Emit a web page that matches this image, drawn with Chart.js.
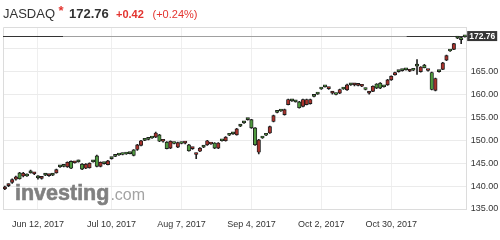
<!DOCTYPE html>
<html>
<head>
<meta charset="utf-8">
<script src="https://cdn.jsdelivr.net/npm/chart.js@4"></script>
<style>
html,body{margin:0;padding:0;background:#fff;}
#wrap{position:relative;width:500px;height:240px;overflow:hidden;}
#c{position:absolute;left:0;top:0;}
.h{position:absolute;font-family:"Liberation Sans",Arial,sans-serif;white-space:nowrap;line-height:16px;}
</style>
</head>
<body>
<div id="wrap">
<canvas id="c" width="500" height="240"></canvas>
<div class="h" style="left:3px;top:5.8px;font-size:13px;color:#333;">JASDAQ</div>
<div class="h" style="left:58.5px;top:2.5px;font-size:13px;color:#e3342f;font-weight:bold;">*</div>
<div class="h" style="left:69px;top:5.8px;font-size:13px;color:#333;font-weight:bold;">172.76</div>
<div class="h" style="left:116px;top:5.7px;font-size:11px;color:#e3342f;font-weight:bold;">+0.42</div>
<div class="h" style="left:152.5px;top:5.7px;font-size:11px;color:#e3342f;">(+0.24%)</div>
</div>
<script>
const dates = [
 'May 30, 2017','May 31, 2017',
 'Jun 1, 2017','Jun 2, 2017','Jun 5, 2017','Jun 6, 2017','Jun 7, 2017','Jun 8, 2017','Jun 9, 2017','Jun 12, 2017','Jun 13, 2017','Jun 14, 2017','Jun 15, 2017','Jun 16, 2017','Jun 19, 2017','Jun 20, 2017','Jun 21, 2017','Jun 22, 2017','Jun 23, 2017','Jun 26, 2017','Jun 27, 2017','Jun 28, 2017','Jun 29, 2017','Jun 30, 2017',
 'Jul 3, 2017','Jul 4, 2017','Jul 5, 2017','Jul 6, 2017','Jul 7, 2017','Jul 10, 2017','Jul 11, 2017','Jul 12, 2017','Jul 13, 2017','Jul 14, 2017','Jul 18, 2017','Jul 19, 2017','Jul 20, 2017','Jul 21, 2017','Jul 24, 2017','Jul 25, 2017','Jul 26, 2017','Jul 27, 2017','Jul 28, 2017','Jul 31, 2017',
 'Aug 1, 2017','Aug 2, 2017','Aug 3, 2017','Aug 4, 2017','Aug 7, 2017','Aug 8, 2017','Aug 9, 2017','Aug 10, 2017','Aug 14, 2017','Aug 15, 2017','Aug 16, 2017','Aug 17, 2017','Aug 18, 2017','Aug 21, 2017','Aug 22, 2017','Aug 23, 2017','Aug 24, 2017','Aug 25, 2017','Aug 28, 2017','Aug 29, 2017','Aug 30, 2017','Aug 31, 2017',
 'Sep 1, 2017','Sep 4, 2017','Sep 5, 2017','Sep 6, 2017','Sep 7, 2017','Sep 8, 2017','Sep 11, 2017','Sep 12, 2017','Sep 13, 2017','Sep 14, 2017','Sep 15, 2017','Sep 19, 2017','Sep 20, 2017','Sep 21, 2017','Sep 22, 2017','Sep 25, 2017','Sep 26, 2017','Sep 27, 2017','Sep 28, 2017','Sep 29, 2017',
 'Oct 2, 2017','Oct 3, 2017','Oct 4, 2017','Oct 5, 2017','Oct 6, 2017','Oct 10, 2017','Oct 11, 2017','Oct 12, 2017','Oct 13, 2017','Oct 16, 2017','Oct 17, 2017','Oct 18, 2017','Oct 19, 2017','Oct 20, 2017','Oct 23, 2017','Oct 24, 2017','Oct 25, 2017','Oct 26, 2017','Oct 27, 2017','Oct 30, 2017','Oct 31, 2017',
 'Nov 1, 2017','Nov 2, 2017','Nov 6, 2017','Nov 7, 2017','Nov 8, 2017','Nov 9, 2017','Nov 10, 2017','Nov 13, 2017','Nov 14, 2017','Nov 15, 2017','Nov 16, 2017','Nov 17, 2017','Nov 20, 2017','Nov 21, 2017','Nov 22, 2017','Nov 24, 2017','Nov 27, 2017','Nov 28, 2017','Nov 29, 2017'
];
const opens = [
 139.8,140.3,141.4,142.0,141.6,142.8,142.2,142.9,142.9,141.8,
 141.9,142.4,142.4,142.4,143.6,144.2,144.3,145.2,143.9,145.3,
 145.3,143.7,144.8,145.0,145.3,144.3,145.2,144.9,145.5,146.0,
 146.5,146.8,146.9,147.0,147.1,146.7,149.0,149.9,150.0,150.2,
 150.5,151.6,149.8,149.9,148.2,149.8,149.3,149.5,149.3,149.5,
 147.7,148.3,147.0,148.3,148.5,149.9,149.3,148.3,149.4,149.9,
 150.7,151.1,151.4,152.5,153.1,153.8,154.5,152.7,149.0,150.1,
 150.5,151.1,153.0,155.4,156.1,156.4,156.7,158.9,158.6,158.4,
 157.1,158.9,158.9,158.9,159.6,160.1,161.2,161.7,161.4,160.4,
 160.0,161.1,161.2,162.1,162.1,162.2,162.1,161.9,161.1,160.4,
 161.8,161.4,161.4,161.7,163.2,164.0,164.8,165.0,165.2,165.4,
 165.2,165.3,166.2,166.0,165.85,165.35,161.1,163.5,165.0,166.9,
 168.5,169.5,171.1,172.3,172.0,172.6
];
const highs = [
 140.0,140.5,141.6,142.2,143.0,143.0,142.7,143.5,143.0,142.3,
 142.0,142.7,142.5,142.7,143.7,144.5,144.6,145.3,145.5,145.4,
 145.7,144.9,144.9,145.1,145.6,146.8,145.3,145.2,145.6,146.3,
 146.8,147.1,147.2,147.3,147.4,148.0,149.1,150.0,150.3,150.5,
 150.8,151.8,151.3,150.2,149.7,149.9,149.6,149.6,149.6,149.6,
 149.1,148.4,147.2,148.4,148.8,150.0,149.4,149.5,149.5,150.2,
 150.8,151.4,151.7,152.6,153.4,154.1,154.8,154.6,152.8,150.2,
 150.8,151.4,153.1,155.5,156.4,156.7,156.8,159.0,158.9,158.7,
 158.5,159.0,159.0,159.0,159.9,160.4,161.5,162.0,161.5,160.5,
 160.3,161.2,161.5,162.3,162.4,162.4,162.2,162.0,161.4,160.5,
 161.9,162.4,162.6,162.0,163.3,164.1,164.9,165.3,165.5,165.7,
 165.3,165.6,167.6,166.1,166.6,165.5,164.9,163.6,165.3,167.0,
 168.6,169.8,171.2,172.6,172.5,172.9
];
const lows = [
 139.2,139.9,140.6,141.3,141.5,142.0,142.1,142.8,142.5,141.5,
 141.5,142.3,142.1,142.3,142.8,144.1,144.2,144.1,143.8,145.0,
 145.2,143.6,143.8,143.9,145.2,144.2,144.2,144.8,144.6,145.9,
 146.4,146.7,146.8,146.9,147.0,146.6,147.8,148.8,149.9,150.1,
 150.4,150.6,149.7,149.6,148.1,148.2,149.2,148.4,149.2,149.2,
 147.6,148.0,146.0,147.5,148.4,148.9,149.1,148.2,148.2,149.8,
 149.8,151.0,151.3,151.1,153.0,153.7,154.4,152.6,148.9,147.0,
 150.4,151.0,151.5,154.0,156.0,156.3,155.5,157.7,158.5,158.3,
 157.0,157.3,157.7,157.9,159.5,160.0,161.1,161.6,161.1,160.1,
 159.9,160.2,161.1,160.9,162.0,161.9,161.9,161.7,161.0,160.1,
 160.6,161.3,161.3,161.6,162.0,163.1,164.2,164.9,165.1,165.3,
 165.0,165.2,164.4,164.9,165.8,165.1,161.0,160.8,164.9,165.4,
 167.4,169.4,169.8,172.2,171.1,172.5
];
const closes = [
 139.4,140.1,140.8,141.5,142.9,142.2,142.5,143.1,142.7,142.0,
 141.7,142.5,142.3,142.5,142.9,144.3,144.4,144.2,145.4,145.1,
 145.4,144.8,143.9,144.0,145.4,146.6,144.3,145.0,144.7,146.1,
 146.6,146.9,147.0,147.1,147.2,147.9,148.0,148.9,150.1,150.4,
 150.6,150.7,151.2,149.8,149.6,148.3,149.4,148.5,149.4,149.4,
 149.0,148.2,146.9,147.6,148.6,149.0,149.2,149.4,148.3,150.0,
 149.9,151.2,151.5,151.2,153.2,153.9,154.6,154.5,152.7,147.4,
 150.6,151.2,151.6,154.1,156.2,156.5,155.6,157.8,158.7,158.5,
 158.4,157.4,157.8,158.0,159.7,160.2,161.3,161.8,161.3,160.3,
 160.1,160.3,161.3,161.0,162.2,162.1,162.0,161.8,161.3,160.3,
 160.7,162.3,162.5,161.8,162.1,163.2,164.3,165.1,165.3,165.5,
 165.1,165.4,166.35,165.0,166.4,165.25,164.8,160.9,165.1,165.5,
 167.5,169.6,169.85,172.5,172.34,172.76
];
const tickDates = ['Jun 12, 2017','Jul 10, 2017','Aug 7, 2017','Sep 4, 2017','Oct 2, 2017','Oct 30, 2017'];
const yMin = 135, yMax = 174.74, yStep = 5;
const hiddenYLabel = 170;
const lastPrice = 172.76;

const UP = '#4f9a3f', DOWN = '#a8322c', EDGE = '#1c1c1c';
const FONT = '"Liberation Sans", Arial, sans-serif';

const bodies = opens.map((o, i) => [Math.min(o, closes[i]), Math.max(o, closes[i])]);
const wicks = lows.map((l, i) => [l, highs[i]]);
const fills = opens.map((o, i) => closes[i] >= o ? UP : DOWN);

const framePlugin = {
  id: 'frame',
  beforeDatasetsDraw(chart) {
    const {ctx, chartArea: a, scales} = chart;
    ctx.save();
    ctx.strokeStyle = '#dcdcdc';
    ctx.lineWidth = 1;
    ctx.beginPath();
    ctx.moveTo(a.left + 0.5, a.bottom);
    ctx.lineTo(a.left + 0.5, a.top + 0.5);
    ctx.lineTo(a.right, a.top + 0.5);
    ctx.stroke();
    // watermark
    ctx.textBaseline = 'alphabetic';
    ctx.font = 'bold 21.5px ' + FONT;
    ctx.fillStyle = '#808080';
    ctx.strokeStyle = '#808080';
    ctx.lineWidth = 0.6;
    ctx.fillText('investing', a.left + 12, 200);
    ctx.strokeText('investing', a.left + 12, 200);
    const w = ctx.measureText('investing').width;
    ctx.font = '16px ' + FONT;
    ctx.fillStyle = '#a3a3a3';
    ctx.fillText('.com', a.left + 12 + w + 1, 200);
    // last price line
    ctx.lineWidth = 1;
    const y = Math.round(scales.y.getPixelForValue(lastPrice)) + 0.5;
    ctx.strokeStyle = '#a0a0a0';
    ctx.beginPath(); ctx.moveTo(a.left, y); ctx.lineTo(a.right, y); ctx.stroke();
    ctx.strokeStyle = '#333';
    ctx.beginPath(); ctx.moveTo(a.left, y); ctx.lineTo(a.left + 60, y); ctx.stroke();
    ctx.beginPath(); ctx.moveTo(a.right - 60, y); ctx.lineTo(a.right, y); ctx.stroke();
    ctx.restore();
  },
  afterDraw(chart) {
    const {ctx, chartArea: a, scales} = chart;
    const y = scales.y.getPixelForValue(lastPrice);
    ctx.save();
    ctx.fillStyle = '#363636';
    ctx.fillRect(a.right + 0.5, y - 5, 30, 10);
    ctx.fillStyle = '#fff';
    ctx.font = 'bold 8.5px ' + FONT;
    ctx.textBaseline = 'middle';
    ctx.textAlign = 'left';
    ctx.fillText(lastPrice.toFixed(2), a.right + 2.5, y + 0.5);
    ctx.restore();
  }
};

new Chart(document.getElementById('c'), {
  type: 'bar',
  data: {
    labels: dates,
    datasets: [
      {label: 'body', data: bodies, backgroundColor: fills, borderColor: EDGE, borderWidth: 0.9,
       borderSkipped: false, barThickness: 3.5, minBarLength: 2, grouped: false, order: 0},
      {label: 'wick', data: wicks, backgroundColor: '#222', barThickness: 1, grouped: false, order: 1}
    ]
  },
  options: {
    responsive: false,
    animation: false,
    layout: {padding: {top: 27, left: 3, right: 0, bottom: 0}},
    plugins: {legend: {display: false}, tooltip: {enabled: false}},
    scales: {
      x: {
        offset: true,
        grid: {offset: false, color: '#efefef', drawTicks: false},
        border: {color: '#dcdcdc'},
        ticks: {
          autoSkip: false, maxRotation: 0, minRotation: 0, padding: 10, color: '#333',
          font: {family: FONT, size: 9},
          callback(v, i) { const l = dates[i]; return tickDates.includes(l) ? l : null; }
        },
        afterFit(s) { s.height = 31; }
      },
      y: {
        position: 'right',
        min: yMin, max: yMax,
        grid: {color: '#ebebeb', drawTicks: false},
        border: {color: '#dcdcdc'},
        ticks: {
          stepSize: yStep, includeBounds: false, padding: 4, color: '#333',
          font: {family: FONT, size: 9},
          callback: v => v === hiddenYLabel ? '' : v.toFixed(2)
        },
        afterFit(s) { s.width = 33.3; }
      }
    }
  },
  plugins: [framePlugin]
});
</script>
</body>
</html>
